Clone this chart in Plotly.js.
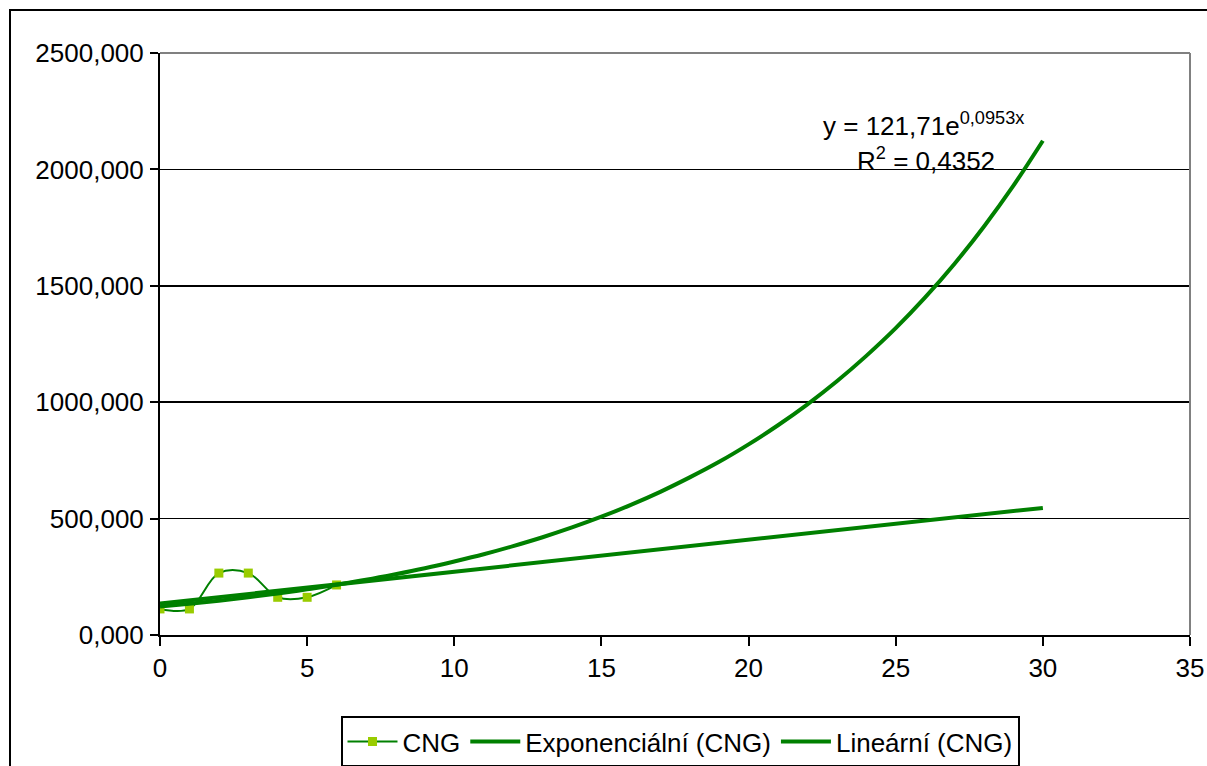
<!DOCTYPE html>
<html>
<head>
<meta charset="utf-8">
<script src="https://cdn.plot.ly/plotly-3.0.1.min.js"></script>
<style>
html,body{margin:0;padding:0;background:#fff;overflow:hidden;}
#wrap{width:1207px;height:766px;overflow:hidden;position:relative;}
#chart{width:1207px;height:800px;}
</style>
</head>
<body>
<div id="wrap"><div id="chart"></div></div>
<script>
// Data
const cngX = [0, 1, 2, 3, 4, 5, 6];
const cngY = [112, 112, 266, 266, 162, 162, 215];

const expX = [0,1,2,3,4,5,6,7,8,9,10,11,12,13,14,15,16,17,18,19,20,21,22,23,24,25,26,27,28,29,30];
const expY = [122,134,147,162,178,196,216,237,261,287,316,347,382,420,462,508,559,615,677,744,819,901,991,1090,1199,1318,1450,1595,1755,1930,2123];

const linX = [0, 30];
const linY = [135, 546];

const seriesNames = ['CNG', 'Exponenciální (CNG)', 'Lineární (CNG)'];
const eqText = 'y = 121,71e<sup>0,0953x</sup>';
const r2Text = 'R<sup>2</sup> = 0,4352';

const FONT = '"Liberation Sans", Arial, sans-serif';
const FS = 26;
const W = 1207, H = 800;
const L = 160, R = 17, T = 53, B = H - 635;
const plotW = W - L - R, plotH = H - T - B;
function px2paperX(px){ return (px - L) / plotW; }
function px2paperY(py){ return (H - B - py) / plotH; }

const traces = [
  {
    x: cngX, y: cngY, name: seriesNames[0], type: 'scatter', mode: 'lines+markers',
    line: {color: '#008000', width: 2, shape: 'spline', smoothing: 1},
    marker: {symbol: 'square', size: 9, color: '#99CC00', line: {width: 0}}
  },
  {
    x: expX, y: expY, name: seriesNames[1], type: 'scatter', mode: 'lines',
    line: {color: '#008000', width: 4, shape: 'spline'}
  },
  {
    x: linX, y: linY, name: seriesNames[2], type: 'scatter', mode: 'lines',
    line: {color: '#008000', width: 4}
  }
];

const layout = {
  width: W, height: H,
  margin: {l: L, r: R, t: T, b: B},
  paper_bgcolor: '#fff', plot_bgcolor: '#fff',
  font: {family: FONT, size: FS, color: '#000'},
  separators: ', ',
  showlegend: true,
  legend: {
    orientation: 'h', x: px2paperX(680), xanchor: 'center',
    y: px2paperY(716), yanchor: 'top',
    bordercolor: '#000', borderwidth: 2, bgcolor: '#fff',
    font: {family: FONT, size: FS, color: '#000'},
    itemwidth: 50, tracegroupgap: 0
  },
  xaxis: {
    range: [0, 35], dtick: 5, tick0: 0,
    showgrid: false, zeroline: false,
    showline: true, linecolor: '#000', linewidth: 2,
    ticks: 'outside', ticklen: 9, tickwidth: 2, tickcolor: '#000',
    tickfont: {family: FONT, size: FS, color: '#000'}
  },
  yaxis: {
    range: [0, 2500], dtick: 500, tick0: 0,
    tickformat: '.3f',
    showgrid: true, gridcolor: '#000', gridwidth: 1.5,
    zeroline: false,
    showline: true, linecolor: '#000', linewidth: 2,
    ticks: 'outside', ticklen: 8, tickwidth: 2, tickcolor: '#000',
    ticklabelstandoff: 1,
    tickfont: {family: FONT, size: FS, color: '#000'}
  },
  shapes: [
    {type: 'line', xref: 'paper', yref: 'paper', x0: 0, x1: 1, y0: 1, y1: 1,
     line: {color: '#808080', width: 2}, layer: 'above'},
    {type: 'line', xref: 'paper', yref: 'paper', x0: 1, x1: 1, y0: 0, y1: 1,
     line: {color: '#808080', width: 2}, layer: 'above'},
    {type: 'rect', xref: 'paper', yref: 'paper',
     x0: px2paperX(10), x1: px2paperX(1300), y0: px2paperY(900), y1: px2paperY(10),
     line: {color: '#000', width: 2}, fillcolor: 'rgba(0,0,0,0)', layer: 'above'}
  ],
  annotations: [
    {x: 25.94, y: 2195, xref: 'x', yref: 'y', text: eqText, showarrow: false,
     xanchor: 'center', yanchor: 'middle', font: {family: FONT, size: FS, color: '#000'}},
    {x: 26.03, y: 2042, xref: 'x', yref: 'y', text: r2Text, showarrow: false,
     xanchor: 'center', yanchor: 'middle', font: {family: FONT, size: FS, color: '#000'}}
  ]
};

Plotly.newPlot('chart', traces, layout, {displayModeBar: false, staticPlot: true});
</script>
</body>
</html>
